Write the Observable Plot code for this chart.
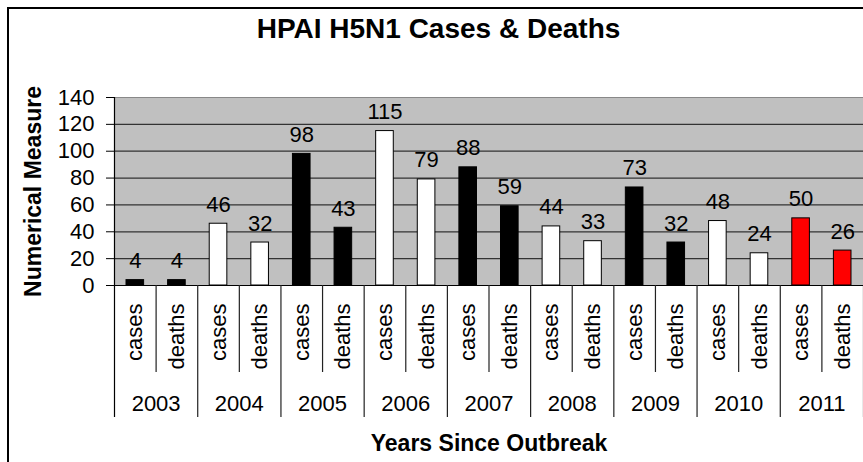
<!DOCTYPE html>
<html><head><meta charset="utf-8">
<script src="https://cdn.jsdelivr.net/npm/d3@7"></script>
<script src="https://cdn.jsdelivr.net/npm/@observablehq/plot@0.6"></script>
<style>
html,body{margin:0;padding:0;background:#fff;overflow:hidden;}
#wrap{position:relative;width:863px;height:462px;overflow:hidden;}
#chart{position:absolute;left:0;top:0;}
#border{position:absolute;left:7px;top:7px;width:920px;height:520px;border:2px solid #000;box-sizing:border-box;pointer-events:none;}
</style></head><body>
<div id="wrap"><div id="chart"></div><div id="border"></div></div>
<script>
// ---- data ----
const years = ["2003","2004","2005","2006","2007","2008","2009","2010","2011"];
const series = ["cases","deaths"];
const casesValues = [4,46,98,115,88,44,73,48,50];
const deathsValues = [4,32,43,79,59,33,32,24,26];
const yTicks = [0,20,40,60,80,100,120,140];
const title = "HPAI H5N1 Cases & Deaths";
const yLabel = "Numerical Measure";
const xLabel = "Years Since Outbreak";

// ---- styles / layout ----
const barColors = ["#000000","#ffffff","#000000","#ffffff","#000000","#ffffff","#000000","#ffffff","#ff0000"];
const W = 863, H = 462, ML = 114, MR = 0, MT = 97, MB = 177;
const yMax = 140;
const pxPerUnit = (H - MB - MT) / yMax;
const below = px => -px / pxPerUnit;   // convert a pixel depth below the baseline into y units

const table = years.flatMap((year, j) => series.map((s, k) => ({
  year, series: s, i: 2 * j + k,
  value: (s === "cases" ? casesValues : deathsValues)[j]
})));
const nBands = table.length;
const yearBounds = d3.range(0, nBands + 1, 2);
const innerBounds = d3.range(1, nBands, 2);

const chart = Plot.plot({
  width: W, height: H,
  marginLeft: ML, marginRight: MR, marginTop: MT, marginBottom: MB,
  style: {fontFamily: "'Liberation Sans', Arial, sans-serif", fontSize: "22px", background: "transparent", color: "#000"},
  x: {domain: [0, nBands], axis: null},
  y: {domain: [0, yMax], ticks: yTicks, tickSize: 8, tickPadding: 12, label: null},
  color: {domain: years, range: barColors},
  marks: [
    Plot.frame({fill: "#c0c0c0", stroke: "none"}),
    Plot.ruleY(yTicks.filter(v => v > 0 && v < yMax), {y: d => d, stroke: "#333", strokeWidth: 1.2}),
    Plot.ruleY([yMax], {y: d => d, stroke: "#888", strokeWidth: 1.2}),
    Plot.rectY(table, {x1: "i", x2: d => d.i + 1, y: "value", fill: "year", stroke: "#000", strokeWidth: 1, insetLeft: 12, insetRight: 12}),
    Plot.text(table, {x: d => d.i + 0.5, y: "value", text: d => String(d.value), lineAnchor: "bottom", dy: -12, fontSize: 22, fill: "#000"}),
    Plot.ruleY([0], {y: d => d, stroke: "#000", strokeWidth: 1.2}),
    Plot.ruleX([0], {x: d => d, y1: below(132), y2: yMax, stroke: "#000", strokeWidth: 1.2}),
    Plot.ruleX(yearBounds.slice(1), {x: d => d, y1: below(132), y2: 0, stroke: "#222", strokeWidth: 1.2}),
    Plot.ruleX(innerBounds, {x: d => d, y1: below(87), y2: 0, stroke: "#222", strokeWidth: 1.2}),
    Plot.text(table, {x: d => d.i + 0.5, y: 0, text: "series", rotate: -90, textAnchor: "end", dy: 18, fontSize: 22, fill: "#000"}),
    Plot.text(years, {x: (d, j) => 2 * j + 1, y: 0, text: d => d, lineAnchor: "bottom", dy: 125, fontSize: 22, fill: "#000"}),
    Plot.text([title], {frameAnchor: "top", text: d => d, textAnchor: "middle", dx: -50.5, dy: -60, lineAnchor: "bottom", fontSize: 28, fontWeight: "bold", fill: "#000"}),
    Plot.text([yLabel], {frameAnchor: "left", text: d => d, rotate: -90, textAnchor: "middle", dx: -74, lineAnchor: "bottom", fontSize: 23, fontWeight: "bold", fill: "#000"}),
    Plot.text([xLabel], {frameAnchor: "bottom", text: d => d, textAnchor: "middle", dy: 165, lineAnchor: "bottom", fontSize: 23, fontWeight: "bold", fill: "#000"})
  ]
});
document.getElementById("chart").appendChild(chart);
</script>
</body></html>
